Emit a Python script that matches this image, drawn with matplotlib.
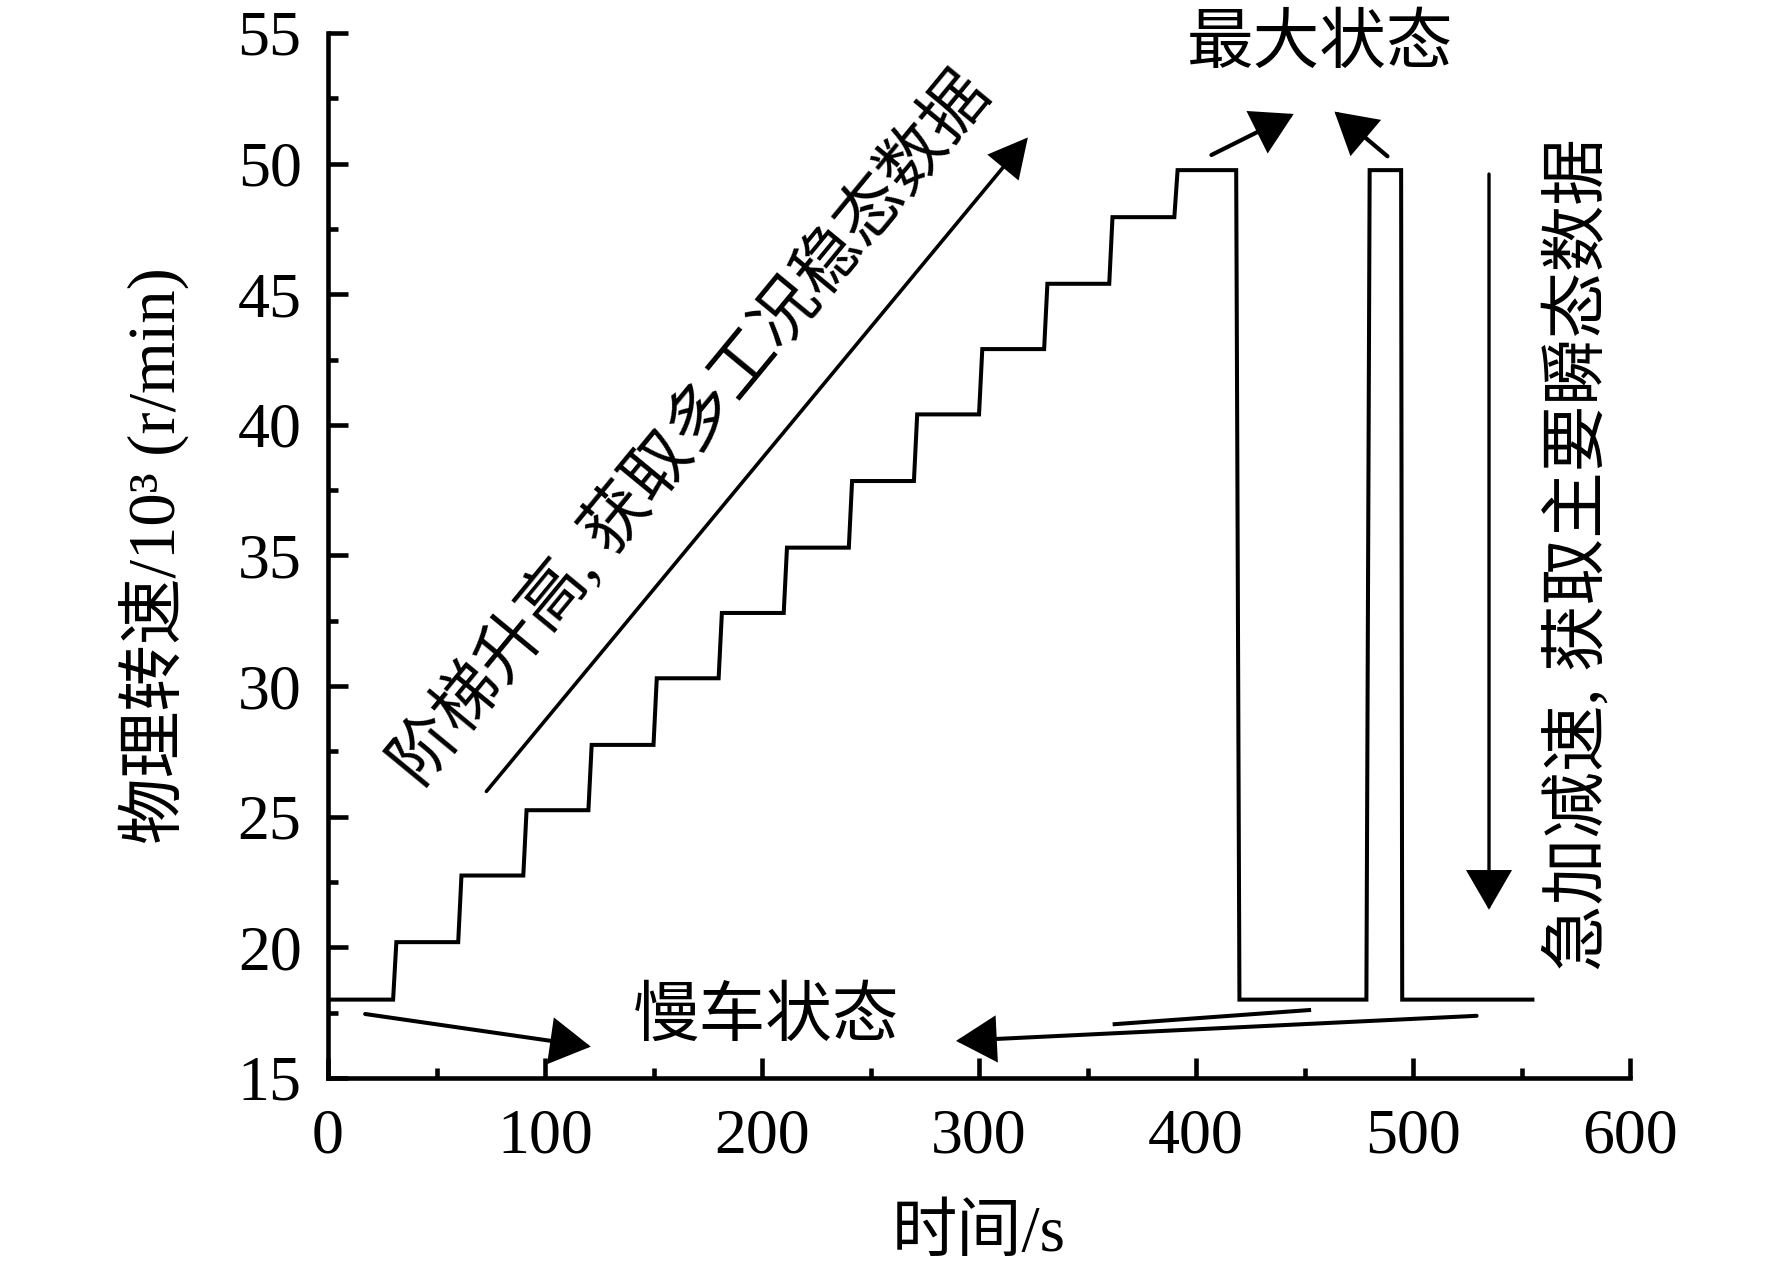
import matplotlib
matplotlib.use('Agg')
import matplotlib.pyplot as plt
from matplotlib.ticker import MultipleLocator

plt.rcParams['font.family'] = ['Liberation Serif', 'Noto Sans CJK SC']

# step profile (time in s, speed in 10^3 r/min)
time_s = [0, 30, 31.5, 60, 61.5, 90, 91.5, 120, 121.5, 150, 151.5, 180, 181.5,
          210, 211.5, 240, 241.5, 270, 271.5, 300, 301.5, 330, 331.5, 360, 361.5,
          390, 391.5, 418.5, 420, 478.5, 480, 494.5, 495, 555]
speed_k = [18, 18, 20.2, 20.2, 22.75, 22.75, 25.25, 25.25, 27.75, 27.75, 30.3, 30.3,
           32.8, 32.8, 35.3, 35.3, 37.85, 37.85, 40.4, 40.4, 42.9, 42.9, 45.4, 45.4,
           47.95, 47.95, 49.75, 49.75, 18, 18, 49.75, 49.75, 18, 18]

# annotation texts
txt_step = '阶梯升高, 获取多工况稳态数据'
txt_max = '最大状态'
txt_idle = '慢车状态'
txt_trans = '急加减速, 获取主要瞬态数据'

fig = plt.figure(figsize=(17.72, 12.78), dpi=100)
ax = fig.add_axes([0.1851, 0.1565, 0.7348, 0.8177])

ax.plot(time_s, speed_k, color='k', lw=2.9, solid_joinstyle='miter')

ax.set_xlim(0, 600)
ax.set_ylim(15, 55)
ax.xaxis.set_major_locator(MultipleLocator(100))
ax.xaxis.set_minor_locator(MultipleLocator(50))
ax.yaxis.set_major_locator(MultipleLocator(5))
ax.yaxis.set_minor_locator(MultipleLocator(2.5))

for side in ['top', 'right']:
    ax.spines[side].set_visible(False)
for side in ['left', 'bottom']:
    ax.spines[side].set_linewidth(3.3)

ax.tick_params(which='both', direction='in', width=3.3, labelsize=46)
ax.tick_params(which='major', length=14.5)
ax.tick_params(which='minor', length=7.5)
ax.tick_params(axis='y', which='major', pad=19)
ax.tick_params(axis='x', which='major', pad=22)

ax.set_xlabel('时间/s', fontsize=47, va='center')
ax.xaxis.set_label_coords(0.5, -0.150)
ax.set_ylabel('物理转速/10³ (r/min)', fontsize=48, va='center')
ax.yaxis.set_label_coords(-0.134, 0.5)


def arrow(tail, tip, lw, hl=2.5, hw=1.45):
    ax.annotate('', xy=tip, xytext=tail,
                arrowprops=dict(arrowstyle=f'-|>,head_length={hl},head_width={hw}',
                                lw=lw, color='k', shrinkA=0, shrinkB=0,
                                mutation_scale=10, joinstyle='miter'),
                annotation_clip=False)


# stepped rise
arrow((73.0, 25.97), (322.5, 51.0), 2.6, hl=2.4, hw=1.25)
ax.text(167.2, 39.85, txt_step, fontsize=48, rotation=50.5,
        ha='center', va='center', rotation_mode='anchor')

# max state
ax.text(457, 54.5, txt_max, fontsize=48, ha='center', va='center', clip_on=False)
arrow((407.1, 50.33), (445.0, 51.9), 3.0)
arrow((488.2, 50.28), (463.8, 51.99), 3.0)

# idle state
ax.text(202, 17.26, txt_idle, fontsize=48, ha='center', va='center')
arrow((17.1, 17.45), (121.1, 16.2), 2.9)
arrow((529.3, 17.38), (289.4, 16.42), 2.9)
ax.plot([452.1, 362.5], [17.6, 17.06], color='k', lw=2.9)

# transient
arrow((535, 49.6), (535, 21.44), 2.4)
ax.text(576, 35.04, txt_trans, fontsize=48, rotation=90,
        ha='center', va='center', rotation_mode='anchor', clip_on=False)

fig.savefig('out.png', dpi=100)
